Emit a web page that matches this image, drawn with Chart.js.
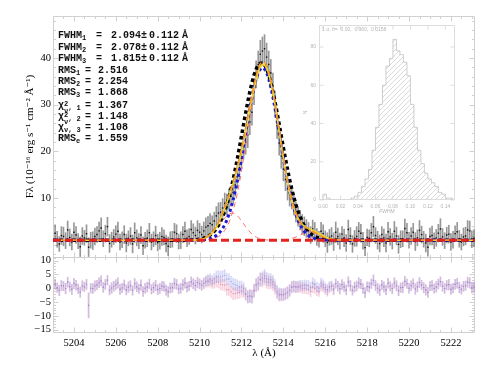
<!DOCTYPE html>
<html><head><meta charset="utf-8">
<script src="https://cdn.jsdelivr.net/npm/chart.js@4.4.1/dist/chart.umd.min.js"></script>
<style>
html,body{margin:0;padding:0;background:#fff}
#wrap{position:relative;width:490px;height:368px;overflow:hidden;background:#fff}
canvas{position:absolute}
.ann{position:absolute;font-family:"Liberation Mono","DejaVu Sans Mono",monospace;font-weight:bold;font-size:10px;line-height:12px;color:#111;white-space:nowrap}
.ann sub{font-size:7px;vertical-align:-2px;line-height:0}
.r{text-align:right}
.st{display:inline-block;vertical-align:-5px;font-size:7px;line-height:7px}
.st span{display:block}
</style></head><body>
<div id="wrap">
<canvas id="main" width="490" height="368" style="left:0;top:0"></canvas>
<canvas id="inset" width="165" height="210" style="left:300px;top:15px"></canvas>
</div>
<script>
// ---------------- data ----------------
const lam = [
5203.1,5203.2,5203.3,5203.4,5203.5,5203.6,5203.7,5203.8,5203.9,5204.0,
5204.1,5204.2,5204.3,5204.4,5204.5,5204.6,5204.7,5204.8,5204.9,5205.0,
5205.1,5205.2,5205.3,5205.4,5205.5,5205.6,5205.7,5205.8,5205.9,5206.0,
5206.1,5206.2,5206.3,5206.4,5206.5,5206.6,5206.7,5206.8,5206.9,5207.0,
5207.1,5207.2,5207.3,5207.4,5207.5,5207.6,5207.7,5207.8,5207.9,5208.0,
5208.1,5208.2,5208.3,5208.4,5208.5,5208.6,5208.7,5208.8,5208.9,5209.0,
5209.1,5209.2,5209.3,5209.4,5209.5,5209.6,5209.7,5209.8,5209.9,5210.0,
5210.1,5210.2,5210.3,5210.4,5210.5,5210.6,5210.7,5210.8,5210.9,5211.0,
5211.1,5211.2,5211.3,5211.4,5211.5,5211.6,5211.7,5211.8,5211.9,5212.0,
5212.1,5212.2,5212.3,5212.4,5212.5,5212.6,5212.7,5212.8,5212.9,5213.0,
5213.1,5213.2,5213.3,5213.4,5213.5,5213.6,5213.7,5213.8,5213.9,5214.0,
5214.1,5214.2,5214.3,5214.4,5214.5,5214.6,5214.7,5214.8,5214.9,5215.0,
5215.1,5215.2,5215.3,5215.4,5215.5,5215.6,5215.7,5215.8,5215.9,5216.0,
5216.1,5216.2,5216.3,5216.4,5216.5,5216.6,5216.7,5216.8,5216.9,5217.0,
5217.1,5217.2,5217.3,5217.4,5217.5,5217.6,5217.7,5217.8,5217.9,5218.0,
5218.1,5218.2,5218.3,5218.4,5218.5,5218.6,5218.7,5218.8,5218.9,5219.0,
5219.1,5219.2,5219.3,5219.4,5219.5,5219.6,5219.7,5219.8,5219.9,5220.0,
5220.1,5220.2,5220.3,5220.4,5220.5,5220.6,5220.7,5220.8,5220.9,5221.0,
5221.1,5221.2,5221.3,5221.4,5221.5,5221.6,5221.7,5221.8,5221.9,5222.0,
5222.1,5222.2,5222.3,5222.4,5222.5,5222.6,5222.7,5222.8,5222.9,5223.0,
5223.1];

const flux = [
2.5,1.2,0.2,2.0,1.8,0.9,3.2,1.6,0.6,2.7,
2.1,0.8,-0.4,1.9,1.5,2.4,-0.5,1.0,0.9,1.8,
2.2,3.0,3.6,1.3,2.4,3.9,0.3,1.1,1.7,2.3,
2.9,0.6,1.1,2.2,0.4,1.4,1.9,0.2,2.6,1.5,
0.8,2.1,-0.2,1.0,1.4,2.6,0.6,1.2,2.0,0.5,
0.9,1.8,1.6,0.3,-0.3,1.1,1.2,2.7,2.4,0.7,
1.0,2.2,2.9,1.4,1.8,3.3,2.6,2.0,3.1,2.7,
2.2,3.0,3.8,4.1,4.6,4.3,5.1,6.2,6.8,7.0,
7.9,8.9,8.6,9.8,10.4,11.2,12.8,14.6,16.5,18.9,
21.0,22.0,23.5,26.3,28.4,32.8,36.5,38.6,40.8,41.5,
42.0,40.2,38.6,36.8,34.0,30.1,25.5,21.8,19.0,16.2,
14.0,12.0,10.6,9.9,8.6,7.0,6.0,5.3,4.4,4.0,
3.5,3.0,2.1,3.4,2.8,1.7,1.2,2.9,2.4,1.3,
0.5,1.6,1.9,0.7,2.7,1.8,0.8,2.3,1.5,0.4,
3.3,1.9,0.2,1.4,1.8,2.9,2.5,0.9,-0.6,1.6,
1.4,2.6,3.9,2.0,1.0,0.3,2.2,1.5,0.4,2.8,
1.7,0.8,2.9,1.9,0.1,1.2,1.3,3.5,2.6,1.0,
1.9,2.7,0.7,1.5,3.1,2.2,1.2,0.4,-0.5,1.8,
2.0,0.9,1.5,2.5,3.4,1.7,0.9,2.1,2.3,0.6,
1.1,2.4,2.8,1.3,0.6,1.7,1.9,3.2,3.0,1.2,
1.4];

const fluxErr = [
1.8,1.7,1.6,1.9,2.0,1.7,1.9,1.8,1.7,2.0,
1.8,1.6,2.1,1.8,1.6,1.9,2.0,1.7,1.9,1.8,
1.7,1.9,2.2,1.7,1.8,2.0,1.9,1.6,1.6,1.8,
2.0,1.7,1.7,1.9,1.9,1.6,1.8,1.9,2.1,1.7,
1.6,1.8,1.9,1.7,1.8,2.0,1.7,1.6,2.0,1.8,
1.8,1.9,1.6,1.8,2.0,1.7,1.7,1.9,1.9,1.6,
1.8,1.7,2.0,1.8,1.7,1.9,1.9,1.8,2.1,1.9,
1.8,1.9,2.0,2.0,2.1,1.9,1.9,2.0,2.2,2.1,
2.0,2.2,2.3,2.2,2.1,2.3,2.4,2.4,2.5,2.5,
2.6,2.6,2.7,2.7,2.8,2.8,2.9,2.9,3.0,3.0,
3.0,3.0,2.9,2.9,2.8,2.8,2.7,2.6,2.6,2.5,
2.4,2.4,2.3,2.2,2.2,2.1,2.0,2.1,2.1,2.0,
1.9,1.8,1.8,1.9,2.0,1.8,1.7,1.9,1.9,1.7,
2.1,1.7,1.8,1.9,2.2,1.8,1.7,1.6,1.9,1.8,
2.0,1.8,1.8,1.7,2.1,1.9,1.9,1.8,1.7,1.8,
1.8,2.0,2.2,1.7,1.9,1.8,1.7,1.9,1.9,2.0,
1.8,1.7,2.1,1.9,1.9,1.8,1.7,2.0,2.0,1.7,
1.8,1.9,1.9,1.7,2.1,1.8,1.7,1.9,1.9,1.8,
2.0,1.7,1.8,1.9,2.2,1.8,1.7,1.7,1.9,1.8,
1.8,1.7,2.0,1.8,1.7,1.9,1.9,2.0,2.1,1.8,
1.8];

const residA = [
1.5,0.2,-0.8,1.0,0.8,-0.1,2.2,0.6,-0.4,1.7,
1.1,-0.2,-1.4,0.9,0.5,1.4,-6.2,0.0,-0.1,0.8,
1.2,2.0,2.6,0.3,1.4,2.9,-0.7,0.1,0.7,1.3,
1.9,-0.4,0.1,1.2,-0.6,0.4,0.9,-0.8,1.6,0.5,
-0.2,1.1,-1.2,0.0,0.4,1.6,-0.4,0.2,1.0,-0.5,
-0.1,0.8,0.6,-0.7,-1.3,0.1,0.2,1.7,1.4,-0.3,
0.0,1.2,1.9,0.4,0.8,2.3,1.6,1.0,2.0,1.6,
1.0,1.7,2.3,2.4,2.5,1.8,1.9,2.4,2.1,1.4,
1.2,1.1,-0.5,-0.6,-1.3,-2.0,-1.9,-1.7,-1.6,-1.0,
-1.1,-2.3,-3.1,-2.7,-2.9,-0.8,1.2,1.6,3.0,2.9,
3.6,2.4,2.1,2.0,1.5,0.0,-1.7,-2.5,-2.4,-2.4,
-2.0,-1.5,-0.7,0.5,0.7,0.4,0.3,0.4,0.0,0.0,
-0.2,-0.5,-1.2,0.3,-0.1,-1.0,-1.2,0.8,0.5,-0.4,
-1.0,0.2,0.65,-0.5,1.6,0.7,-0.2,1.3,0.5,-0.6,
2.3,0.9,-0.8,0.4,0.8,1.9,1.5,-0.1,-1.6,0.6,
0.4,1.6,2.9,1.0,0.0,-0.7,1.2,0.5,-0.6,1.8,
0.7,-0.2,1.9,0.9,-0.9,0.2,0.3,2.5,1.6,0.0,
0.9,1.7,-0.3,0.5,2.1,1.2,0.2,-0.6,-1.5,0.8,
1.0,-0.1,0.5,1.5,2.4,0.7,-0.1,1.1,1.3,-0.4,
0.1,1.4,1.8,0.3,-0.4,0.7,0.9,2.2,2.0,0.2,
0.4];

const residB = [
1.5,0.2,-0.8,1.0,0.8,-0.1,2.2,0.6,-0.4,1.7,
1.1,-0.2,-1.4,0.9,0.5,1.4,-6.2,0.0,-0.1,0.8,
1.2,2.0,2.6,0.3,1.4,2.9,-0.7,0.1,0.7,1.3,
1.9,-0.4,0.1,1.2,-0.6,0.4,0.9,-0.8,1.6,0.5,
-0.2,1.1,-1.2,0.0,0.4,1.6,-0.4,0.2,1.0,-0.5,
-0.1,0.8,0.6,-0.7,-1.3,0.1,0.2,1.7,1.4,-0.3,
0.0,1.2,1.9,0.4,0.8,2.3,1.6,1.0,2.1,1.6,
1.1,1.9,2.6,2.9,3.2,2.8,3.4,4.2,4.4,4.1,
4.4,4.6,3.3,3.3,2.4,1.6,1.3,0.95,0.5,0.4,
-0.2,-1.9,-3.1,-2.9,-3.2,-1.0,1.1,1.8,3.2,3.6,
4.4,3.4,3.1,3.0,2.4,0.9,-1.1,-2.1,-2.2,-2.3,
-2.0,-1.65,-0.9,0.3,0.6,0.5,0.7,1.0,0.9,1.1,
1.1,1.0,0.4,1.9,1.4,0.5,0.0,1.8,1.3,0.25,
-0.5,0.6,0.9,-0.3,1.7,0.8,-0.2,1.3,0.5,-0.6,
2.3,0.9,-0.8,0.4,0.8,1.9,1.5,-0.1,-1.6,0.6,
0.4,1.6,2.9,1.0,0.0,-0.7,1.2,0.5,-0.6,1.8,
0.7,-0.2,1.9,0.9,-0.9,0.2,0.3,2.5,1.6,0.0,
0.9,1.7,-0.3,0.5,2.1,1.2,0.2,-0.6,-1.5,0.8,
1.0,-0.1,0.5,1.5,2.4,0.7,-0.1,1.1,1.3,-0.4,
0.1,1.4,1.8,0.3,-0.4,0.7,0.9,2.2,2.0,0.2,
0.4];

const residErr = [
1.8,1.7,1.9,1.8,1.7,1.9,1.8,1.7,1.8,1.9,
1.8,1.7,1.9,1.8,1.7,1.8,4.5,1.7,1.8,1.9,
1.7,1.8,1.9,1.8,1.8,1.7,1.7,1.9,1.8,1.8,
1.9,1.8,1.7,1.8,1.8,1.9,1.8,1.7,1.9,1.8,
1.7,1.9,1.8,1.8,1.8,1.7,1.7,1.8,1.9,1.8,
1.8,1.7,1.7,1.8,1.9,1.8,1.7,1.9,1.8,1.7,
1.8,1.9,1.9,1.7,1.7,1.8,1.8,1.9,1.9,1.8,
1.8,1.9,1.9,2.0,2.0,1.9,1.9,2.0,2.0,2.0,
2.0,2.1,2.1,2.0,2.0,2.1,2.1,2.1,2.1,2.2,
2.2,2.2,2.2,2.3,2.3,2.3,2.3,2.4,2.4,2.4,
2.4,2.4,2.3,2.3,2.3,2.2,2.2,2.2,2.2,2.1,
2.1,2.1,2.1,2.0,2.0,2.0,1.9,1.9,1.9,1.9,
1.8,1.8,1.8,1.9,1.8,1.7,1.8,1.9,1.8,1.8,
1.9,1.8,1.7,1.9,1.7,1.8,1.9,1.8,1.7,1.8,
1.8,1.9,1.7,1.8,1.8,1.9,1.7,1.8,1.8,1.7,
1.8,1.7,1.9,1.8,1.8,1.9,1.7,1.8,1.7,1.8,
1.7,1.8,1.9,1.8,1.8,1.7,1.9,1.8,1.7,1.8,
1.8,1.7,1.9,1.8,1.8,1.7,1.8,1.9,1.8,1.7,
1.8,1.7,1.9,1.8,1.7,1.8,1.8,1.7,1.9,1.8,
1.7,1.8,1.8,1.9,1.7,1.8,1.7,1.8,1.8,1.9,
1.8];

const modelLam = [5203, 5209.0,5209.2,5209.4,5209.6,5209.8, 5210.0,5210.2,5210.4,5210.6,5210.8,
5211.0,5211.2,5211.4,5211.6,5211.8, 5212.0,5212.2,5212.4,5212.6,5212.8,
5213.0,5213.2,5213.4,5213.6,5213.8, 5214.0,5214.2,5214.4,5214.6,5214.8,
5215.0,5215.2,5215.4,5215.6,5215.8, 5216.0,5216.2,5216.4,5216.6,5216.8, 5217.0, 5223.2];

const modelBlack = [1.0, 1.0,1.01,1.02,1.05,1.11, 1.22,1.44,1.82,2.46,3.48,
5.02,7.22,10.19,13.95,18.40, 23.30,28.26,32.78,36.34,38.50,
38.94,37.62,34.72,30.61,25.80, 20.81,16.10,11.97,8.61,6.03,
4.17,2.91,2.09,1.60,1.31, 1.16,1.07,1.03,1.01,1.0, 1.0, 1.0];

const modelBlue = [1.0, 1.0,1.0,1.0,1.01,1.02, 1.05,1.11,1.24,1.51,2.01,
2.89,4.32,6.50,9.60,13.65, 18.54,23.93,29.23,33.76,36.82,
37.90,36.82,33.76,29.23,23.93, 18.54,13.65,9.60,6.50,4.32,
2.89,2.01,1.51,1.24,1.11, 1.05,1.02,1.01,1.0,1.0, 1.0, 1.0];

const modelYellow = [1.0, 1.0,1.0,1.0,1.01,1.04, 1.13,1.33,1.75,2.55,3.81,
5.60,7.83,10.37,13.15,16.27, 19.95,24.27,29.02,33.55,37.02,
38.60,37.85,34.84,30.06,24.34, 18.58,13.45,9.42,6.63,4.93,
4.02,3.52,3.12,2.66,2.15, 1.70,1.36,1.16,1.06,1.02, 1.0, 1.0];

const modelOrange = [1.0, 1.0,1.0,1.0,1.02,1.06, 1.18,1.42,1.88,2.72,4.0,
5.8,8.0,10.6,13.5,16.8, 20.6,25.0,29.8,34.3,37.7,
39.2,38.4,35.3,30.5,24.8, 19.0,13.8,9.7,6.8,5.0,
4.0,3.4,2.9,2.4,1.9, 1.5,1.25,1.1,1.03,1.0, 1.0, 1.0];

const humpLam = [5209.8,5210.0,5210.2,5210.4,5210.6,5210.8,5211.0,5211.2,5211.4,5211.6,
5211.8,5212.0,5212.2,5212.4,5212.6,5212.8,5213.0,5213.2,5213.4];
const humpFlux = [1.04,1.11,1.29,1.65,2.31,3.29,4.52,5.74,6.59,6.78,
6.23,5.15,3.88,2.76,1.94,1.44,1.18,1.06,1.02];

const mainLam = [5210.4,5210.6,5210.8,5211.0,5211.2,5211.4,5211.6,5211.8,5212.0,5212.2,
5212.4,5212.6,5212.8,5213.0,5213.2,5213.4,5213.6,5213.8,5214.0,5214.2,
5214.4,5214.6,5214.8,5215.0,5215.2,5215.4,5215.6,5215.8,5216.0];
const mainFlux = [1.10,1.24,1.52,2.08,3.09,4.78,7.37,11.04,15.80,21.39,
27.26,32.61,36.58,38.42,37.79,34.82,30.06,24.34,18.52,13.29,
9.06,5.95,3.84,2.52,1.76,1.36,1.16,1.06,1.02];

const wingLam = [5214.0,5214.2,5214.4,5214.6,5214.8,5215.0,5215.2,5215.4,5215.6,5215.8,5216.0,5216.2,5216.4,5216.6,5216.8];
const wingFlux = [1.06,1.16,1.36,1.68,2.09,2.50,2.76,2.76,2.50,2.09,1.68,1.36,1.16,1.06,1.02];

const contLam = [5203, 5223.2];
const contFlux = [1.0, 1.0];

const xTicks = [5204,5206,5208,5210,5212,5214,5216,5218,5220,5222];
const yTicksTop = [10,20,30,40];
const yTicksBot = [-15,-10,-5,0,5,10];
const yLabelsBot = ['\u221215','\u221210','\u22125','0','5','10'];

const fwhm = [2.094, 2.078, 1.815];
const fwhmErr = [0.112, 0.112, 0.112];
const rms = [2.516, 2.254, 1.868];
const chi2 = [1.367, 1.148, 1.108];
const rmsE = 1.559;

const histLeft = [0.000,0.004,0.008,0.012,0.016,0.020,0.024,0.028,0.032,0.036,
0.040,0.044,0.048,0.052,0.056,0.060,0.064,0.068,0.072,0.076,
0.080,0.084,0.088,0.092,0.096,0.100,0.104,0.108,0.112,0.116,
0.120,0.124,0.128,0.132,0.136,0.140,0.144];
const histN = [3,1,0,0,0,0,0,0,1,2,4,7,11,16,26,38,50,60,70,74,84,78,76,72,65,50,38,26,19,14,11,9,7,4,3,1,1];
const histEnd = 0.148;
const insetXTicks = [0.00,0.02,0.04,0.06,0.08,0.10,0.12,0.14];
const insetYTicks = [0,20,40,60,80];
const insetTitle = '1 \u03c3, \u03b8=  0.00,  0.960,  0.0158';

// ---------------- annotations ----------------
const wrap = document.getElementById('wrap');
function put(html, left, top, width, right) {
  const d = document.createElement('div');
  d.className = 'ann' + (right ? ' r' : '');
  d.style.left = left + 'px'; d.style.top = top + 'px';
  if (width) d.style.width = width + 'px';
  d.innerHTML = html;
  wrap.appendChild(d);
}
const rowY = [30,42,53,65,76,87,100,111,122,133];
for (let i = 0; i < 3; i++) {
  put('FWHM<sub>' + (i+1) + '</sub>', 58, rowY[i]);
  put('=', 96, rowY[i]);
  put(fwhm[i].toFixed(3) + '\u00b1', 96, rowY[i], 51, true);
  put(fwhmErr[i].toFixed(3), 149, rowY[i]);
  put('\u00c5', 182, rowY[i]);
}
for (let i = 0; i < 3; i++) {
  put('RMS<sub>' + (i+1) + '</sub>', 58, rowY[3+i]);
  put('=', 85, rowY[3+i]);
  put(rms[i].toFixed(3), 90, rowY[3+i], 38, true);
}
const chiNames = [
  '\u03c7<span class="st"><span>2</span><span>\u03bd</span></span><sub>, 1</sub>',
  '\u03c7<span class="st"><span>2</span><span>\u03bd</span></span><sub>, 2</sub>',
  '\u03c7<sub>\u03bd</sub><sub>, 3</sub>'];
for (let i = 0; i < 3; i++) {
  put(chiNames[i], 58, rowY[6+i]);
  put('=', 85, rowY[6+i]);
  put(chi2[i].toFixed(3), 90, rowY[6+i], 38, true);
}
put('RMS<sub>e</sub>', 58, rowY[9]);
put('=', 85, rowY[9]);
put(rmsE.toFixed(3), 90, rowY[9], 38, true);

// ---------------- main chart ----------------
const SERIF = '"Liberation Serif", "DejaVu Serif", serif';
const pts = (xs, ys) => xs.map((x, i) => ({x, y: ys[i]}));
const bars = (xs, ys, es) => xs.map((x, i) => ({x, y: [ys[i]-es[i], ys[i]+es[i]]}));

const frame = {
  id: 'frame',
  beforeDatasetsDraw(chart) {
    const {ctx, chartArea: a, scales} = chart;
    const x = scales.x, y = scales.y, yr = scales.yr;
    ctx.save();
    ctx.strokeStyle = '#d0d0d0';
    ctx.lineWidth = 1;
    const L = Math.round(a.left)+0.5, R = Math.round(a.right)-0.5;
    const T = Math.round(a.top)+0.5, B = Math.round(a.bottom)-0.5, M = Math.round(y.bottom)+0.5;
    ctx.beginPath();
    ctx.rect(L, T, R-L, B-T);
    ctx.moveTo(L, M); ctx.lineTo(R, M);
    for (let v = 5203; v <= x.max; v += 0.5) {
      const p = Math.round(x.getPixelForValue(v)) + 0.5;
      const len = (v % 2 === 0) ? 5 : 2.5;
      ctx.moveTo(p, T); ctx.lineTo(p, T+len);
      ctx.moveTo(p, M); ctx.lineTo(p, M-len);
      ctx.moveTo(p, M); ctx.lineTo(p, M+len);
      ctx.moveTo(p, B); ctx.lineTo(p, B-len);
    }
    for (let v = -2; v <= y.max; v += 2) {
      const p = Math.round(y.getPixelForValue(v)) + 0.5;
      const len = (v % 10 === 0) ? 5 : 2.5;
      ctx.moveTo(L, p); ctx.lineTo(L+len, p);
      ctx.moveTo(R, p); ctx.lineTo(R-len, p);
    }
    for (let v = -16; v <= yr.max; v += 1) {
      const p = Math.round(yr.getPixelForValue(v)) + 0.5;
      const len = (v % 5 === 0) ? 5 : 2.5;
      ctx.moveTo(L, p); ctx.lineTo(L+len, p);
      ctx.moveTo(R, p); ctx.lineTo(R-len, p);
    }
    ctx.stroke();
    ctx.restore();
  }
};

const lineDs = (xs, ys, color, width, dash, order) => ({
  type: 'line', data: pts(xs, ys), yAxisID: 'y', borderColor: color, borderWidth: width,
  borderDash: dash, pointRadius: 0, fill: false, cubicInterpolationMode: 'monotone', order
});

new Chart(document.getElementById('main'), {
  type: 'scatter',
  data: {
    datasets: [
      lineDs(contLam, contFlux, '#e3231e', 3, [8, 4], 1),
      lineDs(modelLam, modelOrange, '#f39422', 1.5, [6, 3], 2),
      lineDs(modelLam, modelYellow, '#f2dc2a', 1.6, [], 3),
      lineDs(modelLam, modelBlue, '#1c1cd2', 3, [3, 3], 4),
      lineDs(modelLam, modelBlack, '#000000', 3.5, [3.5, 3], 5),
      lineDs(humpLam, humpFlux, '#ff7070', 1, [5, 4], 6),
      lineDs(mainLam, mainFlux, '#ff7070', 1, [5, 4], 6),
      lineDs(wingLam, wingFlux, '#ff7070', 1, [5, 4], 6),
      {type: 'scatter', data: pts(lam, flux), yAxisID: 'y', pointStyle: 'rect', pointRadius: 1,
       backgroundColor: '#111', borderWidth: 0, order: 8},
      {type: 'bar', data: bars(lam, flux, fluxErr), yAxisID: 'y', backgroundColor: 'rgba(95,95,95,0.65)',
       barThickness: 1, grouped: false, borderWidth: 0, order: 9},
      {type: 'scatter', data: pts(lam, residB), yAxisID: 'yr', pointStyle: 'rect', pointRadius: 0.8,
       backgroundColor: 'rgba(120,120,225,0.6)', borderWidth: 0, order: 10},
      {type: 'bar', data: bars(lam, residB, residErr), yAxisID: 'yr', backgroundColor: 'rgba(140,150,230,0.35)',
       barThickness: 1, grouped: false, borderWidth: 0, order: 11},
      {type: 'scatter', data: pts(lam, residA), yAxisID: 'yr', pointStyle: 'rect', pointRadius: 0.8,
       backgroundColor: 'rgba(205,90,140,0.6)', borderWidth: 0, order: 12},
      {type: 'bar', data: bars(lam, residA, residErr), yAxisID: 'yr', backgroundColor: 'rgba(235,130,160,0.35)',
       barThickness: 1, grouped: false, borderWidth: 0, order: 13}
    ]
  },
  options: {
    responsive: false, animation: false, devicePixelRatio: 1,
    layout: {padding: {left: 0, right: 15, top: 16, bottom: 5}},
    plugins: {legend: {display: false}, tooltip: {enabled: false}},
    scales: {
      x: {type: 'linear', position: 'bottom', min: 5203, max: 5223.15, offset: false,
        grid: {display: false, drawTicks: false}, border: {display: false},
        afterBuildTicks: s => { s.ticks = xTicks.map(v => ({value: v})); },
        ticks: {padding: 4, autoSkip: false, maxRotation: 0, color: '#000',
          font: {family: SERIF, size: 10.5}, callback: v => String(v)},
        title: {display: true, text: '\u03bb (\u00c5)', color: '#000', font: {family: SERIF, size: 11},
          padding: {top: 0, bottom: 3}},
        afterFit: s => { s.height = 30; }},
      yr: {type: 'linear', position: 'left', stack: 'spec', stackWeight: 76, min: -16.2, max: 11.3,
        grid: {display: false, drawTicks: false}, border: {display: false},
        afterBuildTicks: s => { s.ticks = yTicksBot.map(v => ({value: v})); },
        ticks: {padding: 2, autoSkip: false, color: '#000', font: {family: SERIF, size: 10.5},
          callback: v => yLabelsBot[yTicksBot.indexOf(v)]},
        afterFit: s => { s.width = 53; }},
      y: {type: 'linear', position: 'left', stack: 'spec', stackWeight: 241, min: -2.6, max: 49,
        grid: {display: false, drawTicks: false}, border: {display: false},
        afterBuildTicks: s => { s.ticks = yTicksTop.map(v => ({value: v})); },
        ticks: {padding: 2, autoSkip: false, color: '#000', font: {family: SERIF, size: 10.5},
          callback: v => String(v)},
        title: {display: true, text: 'F\u03bb (10\u207b\u00b9\u2076 erg s\u207b\u00b9 cm\u207b\u00b2 \u00c5\u207b\u00b9)',
          color: '#000', font: {family: SERIF, size: 11}, padding: {top: 24, bottom: 0}},
        afterFit: s => { s.width = 53; }}
    }
  },
  plugins: [frame]
});

// ---------------- inset ----------------
const insetCanvas = document.getElementById('inset');
const pc = document.createElement('canvas'); pc.width = 5; pc.height = 5;
const pg = pc.getContext('2d'); pg.strokeStyle = '#d0d0d0'; pg.lineWidth = 0.8;
pg.beginPath(); pg.moveTo(0,5); pg.lineTo(5,0); pg.moveTo(-1,1); pg.lineTo(1,-1); pg.moveTo(4,6); pg.lineTo(6,4); pg.stroke();
const hatch = insetCanvas.getContext('2d').createPattern(pc, 'repeat');

const histData = [{x: histLeft[0], y: 0}].concat(pts(histLeft, histN), [{x: histEnd, y: 0}]);
const GRAY = '#b4b4b4';
const insetFrame = {
  id: 'insetFrame',
  afterDatasetsDraw(chart) {
    const {ctx, chartArea: a, scales: {x, y}} = chart;
    ctx.save();
    ctx.strokeStyle = '#d6d6d6'; ctx.lineWidth = 0.8;
    const L = Math.round(a.left)+0.5, R = Math.round(a.right)-0.5, T = Math.round(a.top)+0.5, B = Math.round(a.bottom)-0.5;
    ctx.beginPath();
    ctx.rect(L, T, R-L, B-T);
    for (let i = 0; i < insetXTicks.length; i++) {
      const p = x.getPixelForValue(insetXTicks[i]);
      ctx.moveTo(p, B); ctx.lineTo(p, B-4); ctx.moveTo(p, T); ctx.lineTo(p, T+4);
    }
    for (let i = 0; i < insetYTicks.length; i++) {
      const p = y.getPixelForValue(insetYTicks[i]);
      ctx.moveTo(L, p); ctx.lineTo(L+4, p); ctx.moveTo(R, p); ctx.lineTo(R-4, p);
    }
    ctx.stroke();
    ctx.fillStyle = GRAY; ctx.font = '5px "Liberation Sans", sans-serif';
    ctx.textBaseline = 'middle';
    ctx.fillText(insetTitle, a.left + 3, a.top + 5);
    ctx.restore();
  }
};

new Chart(insetCanvas, {
  type: 'line',
  data: {datasets: [{data: histData, stepped: 'before', fill: 'origin', backgroundColor: hatch,
    borderColor: '#c2c2c2', borderWidth: 0.8, pointRadius: 0}]},
  options: {
    responsive: false, animation: false, devicePixelRatio: 1,
    layout: {padding: {left: 0, right: 10, top: 10, bottom: 0}},
    plugins: {legend: {display: false}, tooltip: {enabled: false}},
    scales: {
      x: {type: 'linear', min: -0.0046, max: 0.151, grid: {display: false, drawTicks: false}, border: {display: false},
        afterBuildTicks: s => { s.ticks = insetXTicks.map(v => ({value: v})); },
        ticks: {padding: 4, autoSkip: false, maxRotation: 0, color: GRAY,
          font: {family: '"Liberation Sans", sans-serif', size: 5}, callback: v => v.toFixed(2)},
        title: {display: true, text: 'FWHM', color: GRAY, font: {family: '"Liberation Sans", sans-serif', size: 5},
          padding: {top: 0, bottom: 10}},
        afterFit: s => { s.height = 25; }},
      y: {type: 'linear', min: 0, max: 91.5, grid: {display: false, drawTicks: false}, border: {display: false},
        afterBuildTicks: s => { s.ticks = insetYTicks.map(v => ({value: v})); },
        ticks: {padding: 3, autoSkip: false, color: GRAY,
          font: {family: '"Liberation Sans", sans-serif', size: 5}, callback: v => String(v)},
        title: {display: true, text: 'N', color: GRAY, font: {family: '"Liberation Sans", sans-serif', size: 5},
          padding: {top: 3, bottom: 0}},
        afterFit: s => { s.width = 19; }}
    }
  },
  plugins: [insetFrame]
});
</script></body></html>
